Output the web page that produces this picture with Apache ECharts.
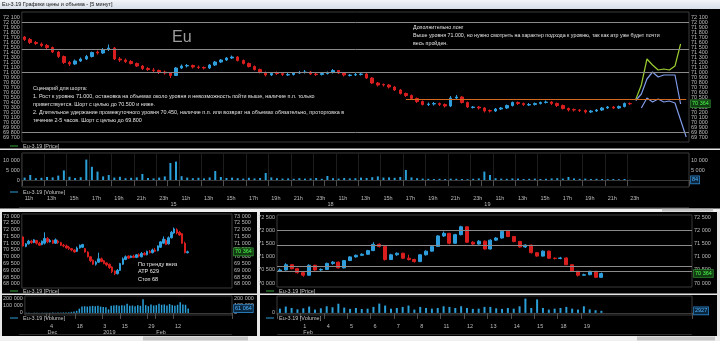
<!DOCTYPE html>
<html><head><meta charset="utf-8">
<script src="https://cdn.jsdelivr.net/npm/echarts@6/dist/echarts.min.js"></script>
<style>html,body{margin:0;padding:0;background:#000;overflow:hidden}#c{width:720px;height:341px}</style>
</head><body><div id="c"></div><script>
// ================= DATA =================
const windowTitle = 'Eu-3.19 Графики цены и объема - [5 минут]';
const priceName = 'Eu-3.19 [Price]';
const volumeName = 'Eu-3.19 [Volume]';

// ---- top chart: 30-min slots, sessions 10:00-24:00 ----
const topDays = ['14', '15', '18', '19', '20'];
// [open, close, low, high]
const topCandles = [
[71700,71650,71620,71720],[71650,71590,71560,71680],[71590,71570,71540,71620],[71560,71530,71500,71590],[71530,71490,71460,71560],
[71490,71400,71380,71510],[71400,71310,71280,71420],[71310,71190,71160,71330],[71190,71160,71120,71220],[71160,71220,71140,71250],
[71220,71260,71200,71290],[71260,71310,71240,71340],[71310,71390,71290,71410],[71400,71380,71350,71430],[71380,71450,71360,71480],
[71450,71480,71420,71550],[71480,71260,71240,71500],[71260,71240,71200,71300],[71240,71210,71180,71270],[71210,71170,71150,71240],
[71170,71120,71100,71190],[71120,71070,71040,71140],[71070,71050,71020,71100],[71040,71030,71000,71080],[71030,71000,70960,71050],
[71000,70980,70950,71030],[70980,70930,70880,71000],[70930,71080,70920,71100],[71080,71120,71060,71150],[71120,71130,71090,71160],
[71130,71100,71070,71150],[71100,71090,71060,71130],[71090,71080,71050,71110],[71080,71140,71060,71160],[71140,71200,71120,71220],
[71200,71240,71180,71260],[71240,71280,71220,71300],[71280,71300,71260,71330],[71300,71230,71210,71320],[71230,71170,71150,71250],
[71170,71110,71090,71190],[71110,71050,71030,71130],[71050,70990,70970,71070],[70990,70940,70910,71010],[70940,70970,70920,71000],
[70980,70970,70940,71010],[70970,70950,70920,70990],[70940,70950,70920,70980],[70950,70980,70930,71000],[70980,70990,70960,71020],
[70990,71000,70970,71040],[71000,70960,70940,71020],[70960,70950,70920,70980],[70950,70970,70930,70990],[70970,70990,70950,71010],
[70990,71030,70970,71060],[71030,70980,70960,71040],[70980,70940,70910,71000],[70930,70940,70910,70960],[70940,70950,70920,70980],
[70950,70960,70930,70990],[70960,70880,70860,70980],[70880,70780,70760,70900],[70780,70740,70710,70800],[70750,70740,70710,70770],
[70740,70700,70670,70760],[70700,70640,70620,70720],[70640,70570,70550,70660],[70570,70530,70500,70590],[70530,70470,70450,70550],
[70470,70410,70380,70490],[70410,70350,70330,70430],[70350,70360,70320,70390],[70360,70370,70330,70400],[70370,70350,70320,70390],
[70350,70320,70290,70370],[70320,70480,70300,70520],[70480,70500,70460,70540],[70500,70390,70370,70520],[70390,70300,70280,70410],
[70290,70300,70270,70320],[70300,70280,70250,70320],[70280,70220,70190,70300],[70230,70220,70190,70250],[70220,70260,70200,70280],
[70260,70280,70240,70300],[70280,70330,70260,70350],[70330,70390,70310,70410],[70390,70370,70340,70410],[70370,70350,70320,70390],
[70340,70350,70320,70380],[70350,70370,70330,70390],[70370,70390,70350,70410],[70390,70400,70370,70430],[70400,70370,70340,70420],
[70370,70330,70300,70390],[70330,70270,70250,70350],[70270,70240,70210,70290],[70250,70240,70210,70270],[70240,70230,70200,70260],
[70230,70200,70170,70250],[70200,70220,70180,70240],[70220,70240,70200,70260],[70240,70280,70220,70300],[70280,70300,70260,70320],
[70300,70280,70260,70320],[70280,70310,70260,70330],[70310,70370,70290,70390],[70370,70364,70340,70390]
];
const topVolume = [
1200,2500,900,1100,1500,1300,2200,4800,1600,1000,1400,10200,6600,4200,1800,2500,1200,1600,900,1100,
1300,3000,1000,800,1200,1800,8500,9200,1900,1200,900,1100,800,1300,4500,1500,1000,1200,900,700,
1100,800,1000,3500,1300,900,700,800,600,900,700,800,1000,600,2000,900,700,1000,800,900,
1200,1000,1400,1800,1200,1300,1100,1500,5000,1300,900,700,600,500,600,500,700,600,500,400,
600,800,4200,2500,900,700,600,800,700,500,600,700,500,600,800,900,700,1500,800,600,
700,500,600,500,400,500,400,500,84
];
// ATR projection channels, continuing after the last candle
const projGreen = [70450,70740,71260,71140,71040,71060,71040,71120,71560];
const projUpper = [70430,70560,70860,71000,70900,70940,70940,70940,70360];
const projLower = [null,70280,70480,70400,70460,70400,70420,70380,70040,69700];
const topLevels = [72000, 71450, 71000, 69800];
const shortLevel = 70450;
const shortLevelFrom = '18|17:00';
const lastPrice = 70364;

// ---- bottom-left: daily ----
const leftDays = [
'2018-11-21','2018-11-22','2018-11-23','2018-11-26','2018-11-27','2018-11-28','2018-11-29','2018-11-30',
'2018-12-03','2018-12-04','2018-12-05','2018-12-06','2018-12-07','2018-12-10','2018-12-11','2018-12-12','2018-12-13','2018-12-14',
'2018-12-17','2018-12-18','2018-12-19','2018-12-20','2018-12-21','2018-12-24','2018-12-25','2018-12-26','2018-12-27','2018-12-28','2018-12-29',
'2019-01-03','2019-01-04','2019-01-08','2019-01-09','2019-01-10','2019-01-11','2019-01-14','2019-01-15','2019-01-16','2019-01-17','2019-01-18',
'2019-01-21','2019-01-22','2019-01-23','2019-01-24','2019-01-25','2019-01-28','2019-01-29','2019-01-30','2019-01-31',
'2019-02-01','2019-02-04','2019-02-05','2019-02-06','2019-02-07','2019-02-08','2019-02-11','2019-02-12','2019-02-13','2019-02-14','2019-02-15',
'2019-02-18','2019-02-19',
'2019-02-20','2019-02-21','2019-02-22','2019-02-25','2019-02-26','2019-02-27','2019-02-28','2019-03-01','2019-03-04','2019-03-05',
'2019-03-06','2019-03-07','2019-03-11','2019-03-12','2019-03-13','2019-03-14'
];
const leftDateTicks = ['2018-12-04','2018-12-18','2019-01-03','2019-01-15','2019-01-29','2019-02-12'];
const leftMonthNames = {'2018-12':'Dec','2019-01':'2019','2019-02':'Feb'};
const leftCandles = [
[71460,70800,70750,71500],[70760,70950,70700,71000],[70950,71150,70900,71250],[71150,71050,70950,71250],[71050,71250,71000,71300],
[71200,71000,70900,71250],[71000,70850,70800,71100],[70900,71150,70850,71200],[71000,71350,70900,71800],[71350,71100,71000,71450],
[71100,71200,71050,71300],[71200,71000,70950,71250],[71000,71250,70950,71350],[71150,71050,70950,71250],[71050,70850,70800,71100],
[70850,70800,70700,70950],[70800,70650,70600,70900],[70700,70600,70500,70800],[70600,70500,70400,70650],[70500,70350,70300,70550],
[70400,70650,70350,70750],[70650,70850,70600,70900],[70700,70900,70650,70950],[70600,70350,70300,70650],[70350,70000,69950,70400],
[70000,69700,69600,70050],[69750,69450,69400,69800],[69450,69600,69350,69700],[69600,69850,69550,70300],[69850,69650,69600,69950],
[69700,69500,69450,69750],[69550,69400,69300,69600],[69450,69200,69100,69500],[69250,68900,68800,69300],[68950,68750,68650,69000],
[68750,69000,68700,69100],[69000,69500,68950,69550],[69450,69850,69400,69950],[69800,70000,69750,70100],[70050,69900,69850,70100],
[69950,70050,69900,70100],[70050,69950,69900,70150],[69950,70150,69900,70200],[70150,70050,69950,70250],[70000,70250,69950,70350],
[70250,70150,70100,70350],[70150,70400,70100,70450],[70400,70300,70250,70500],[70300,70500,70250,70600],[70500,70400,70350,70650],
[70450,70800,70400,70850],[70700,71100,70650,71150],[71000,71300,70950,71500],[71200,70900,70850,71300],[70950,71400,70900,71500],
[71400,71800,71350,71900],[71750,72050,71700,72150],[72000,71750,71650,72100],[71800,71600,71550,71900],[71700,71000,70950,71750],
[71000,70300,70250,71100],[70300,70364,70250,70450]
];
const leftVolume = [
1000,1500,800,1200,2000,1800,1500,2500,3000,2000,5000,4000,6000,5000,8000,7000,9000,15000,20000,30000,
60000,90000,95000,90000,95000,100000,95000,100000,90000,85000,80000,50000,100000,105000,110000,100000,110000,105000,130000,100000,
105000,95000,110000,100000,195000,110000,95000,120000,105000,110000,130000,115000,120000,105000,125000,110000,100000,115000,150000,120000,
115000,61064
];
const leftNotes = ['По тренду вниз', 'АТР 629', 'Стоп 68'];

// ---- bottom-right: 4 slots per trading day ----
const rightDays = ['01-31','02-01','02-04','02-05','02-06','02-07','02-08','02-11','02-12','02-13','02-14','02-15','02-18','02-19','02-20','02-21','02-22','02-25'];
const rightMonthNames = {'02':'Feb'};
const rightCandles = [
[70450,70500,70420,70560],[70500,70700,70480,70760],[70700,70550,70520,70720],[70550,70400,70360,70580],[70400,70300,70240,70430],
[70300,70680,70280,70720],[70680,70500,70470,70700],[70500,70520,70460,70560],[70520,70750,70500,70780],[70750,70800,70700,70840],
[70800,70580,70560,70820],[70580,70860,70560,70880],[70860,71000,70840,71030],[71000,71060,70970,71090],[71060,71100,71030,71140],
[71100,71240,71080,71270],[71240,71480,71220,71560],[71480,71400,71360,71520],[71400,70900,70860,71420],[70900,71080,70880,71120],
[71080,71140,71040,71170],[71140,70950,70920,71160],[70950,70900,70860,71080],[70900,70820,70780,70930],[70820,71080,70800,71100],
[71080,71220,71050,71250],[71220,71400,71200,71430],[71400,71800,71380,71830],[71800,71900,71760,71970],[71900,71520,71480,71920],
[71520,71850,71500,71880],[71850,72150,71820,72190],[72150,71560,71530,72160],[71560,71490,71450,71600],[71490,71600,71470,71640],
[71600,71300,71280,71630],[71300,71640,71280,71670],[71640,71720,71610,71760],[71720,71980,71700,72010],[71980,71780,71750,72000],
[71780,71590,71560,71800],[71590,71380,71350,71610],[71380,71450,71340,71480],[71450,71160,71130,71470],[71160,71030,71000,71190],
[71030,71220,71010,71250],[71220,70950,70920,71240],[70950,70940,70900,70980],[70940,70960,70910,71000],[70960,70700,70680,70980],
[70700,70450,70420,70720],[70450,70300,70250,70470],[70300,70320,70280,70360],[70320,70450,70300,70470],[70450,70220,70190,70460],
[70220,70364,70200,70400]
];
const rightVolume = [
6000,9000,7000,5000,6500,9000,4700,6500,9400,8000,13000,7500,5700,7000,5500,6000,8500,13200,10400,6000,
7000,8500,10400,4700,8500,7000,6000,7000,9400,8500,7000,9400,7000,5700,6000,8500,8500,6500,5700,7000,
6000,9400,20300,7000,19200,7000,4700,6000,7000,8500,6000,4700,9400,5000,3800,2927
];
const rightLevels = [72000, 71450, 70640, 70450];

const scenarioText = [
'Сценарий для шорта:',
'1. Рост к уровню 71.000, остановка на объемах около уровня и невозможность пойти выше, наличие п.п. только',
'приветствуется. Шорт с целью до 70.500 и ниже.',
'2. Длительное удержание промежуточного уровня 70.450, наличие п.п. или возврат на объемах обязательно, проторговка в',
'течение 2-5 часов. Шорт с целью до 69.800'
];
const longText = [
'Дополнительно лонг',
'Выше уровня 71.000, но нужно смотреть на характер подхода к уровню, так как атр уже будет почти',
'весь пройден.'
];

// ================= BUILD =================
const FONT = 'Arial, "Liberation Sans", sans-serif';
const LBL = '#bcbcbc';
const UP = '#2e9fdc', DOWN = '#d81e1e', VOL = '#2a9fd8';
const CLEAR = 'rgba(0,0,0,0)';
const fmt = v => String(v).replace(/\B(?=(\d{3})+(?!\d))/g, ' ');

// top categories
const topCats = [];
topDays.forEach((d, k) => {
  for (let m = (k === 0 ? 11 * 60 : 10 * 60); m < 24 * 60; m += 30) {
    topCats.push(d + '|' + String(Math.floor(m / 60)).padStart(2, '0') + ':' + String(m % 60).padStart(2, '0'));
  }
});
const topN = topCandles.length;
topCats.length = topN + projLower.length;
const pad = (arr, n) => new Array(n).fill(null).concat(arr);
const topDay = i => topCats[i].split('|')[0];
const hourShow = i => { if (i >= topN) return false; const t = topCats[i].split('|')[1]; return t.slice(3) === '00' && (+t.slice(0, 2)) % 2 === 1; };
const topDayShow = i => i > 0 && i < topN && topDay(i) !== topDay(i - 1);

// left
const leftN = leftCandles.length;
const leftTickShow = i => i < leftN && leftDateTicks.includes(leftDays[i]);
const leftMonthShow = i => i > 0 && i < leftN && leftDays[i].slice(0, 7) !== leftDays[i - 1].slice(0, 7);

// right
const rightN = rightCandles.length;
const rightCats = [];
rightDays.forEach(d => { for (let q = 0; q < 4; q++) rightCats.push(d + '|' + q); });
rightCats.length = rightN + 15;
const rDay = i => rightCats[i].split('|')[0];
const rightDayShow = i => i > 0 && i < rightN && rDay(i) !== rDay(i - 1);
const rightMonthShow = i => i > 0 && i < rightN && rDay(i).slice(0, 2) !== rDay(i - 1).slice(0, 2);

function yAxis(grid, pos, min, max, interval, step, lo, hi, show) {
  return {
    type: 'value', gridIndex: grid, position: pos, min, max, interval, scale: true,
    axisLine: {show: false}, axisTick: {show: false}, splitLine: {show: false},
    axisLabel: {show: show !== false, fontSize: 5.5, fontFamily: FONT, color: LBL, margin: 2,
      formatter: v => (v % step === 0 && v >= lo && v <= hi) ? fmt(v) : ''}
  };
}
function timeAxis(grid, cats, offset, showFn, fmtFn) {
  return {
    type: 'category', gridIndex: grid, data: cats, position: 'bottom', offset,
    axisLine: {show: true, lineStyle: {color: '#3a3a3a'}},
    axisTick: {show: true, length: 6, interval: (i) => showFn(i), lineStyle: {color: '#505050'}},
    axisLabel: {interval: (i) => showFn(i), formatter: fmtFn, align: 'left', margin: 0,
      fontSize: 5.5, fontFamily: FONT, color: LBL},
    splitLine: {show: false}
  };
}
function hiddenX(grid, cats) {
  return {type: 'category', gridIndex: grid, data: cats, show: false};
}
function levelLines(levels, color) {
  return levels.map(v => ({yAxis: v, lineStyle: {color: color, width: 1, type: 'solid'}}));
}
function lastBox(value, text, bg, fg, border) {
  return {yAxis: value, lineStyle: {color: CLEAR, width: 0.1, type: 'solid'},
    label: {show: true, position: 'end', distance: 2, formatter: text, fontSize: 5.5, fontFamily: FONT,
      color: fg, backgroundColor: bg, borderColor: border, borderWidth: 0.8, padding: [1, 1, 0, 1]}};
}
const candleStyle = {color: UP, color0: DOWN, borderColor: UP, borderColor0: DOWN, borderWidth: 1};

const chart = echarts.init(document.getElementById('c'), null, {renderer: 'canvas'});
const gridStyle = {show: true, borderColor: '#3a3a3a', borderWidth: 1, backgroundColor: 'transparent'};

const option = {
  animation: false,
  backgroundColor: '#000',
  textStyle: {fontFamily: FONT},
  grid: [
    Object.assign({left: 19, top: 12, width: 670, height: 130}, gridStyle),
    Object.assign({left: 19, top: 153, width: 670, height: 34}, gridStyle),
    Object.assign({left: 19, top: 214, width: 213, height: 74}, gridStyle),
    Object.assign({left: 19, top: 296, width: 213, height: 19}, gridStyle),
    Object.assign({left: 277, top: 215, width: 415, height: 72}, gridStyle),
    Object.assign({left: 277, top: 296, width: 415, height: 19}, gridStyle)
  ],
  xAxis: [
    hiddenX(0, topCats),
    Object.assign(timeAxis(1, topCats, 8, hourShow, v => (+v.split('|')[1].slice(0, 2)) + 'h'),
      {splitLine: {show: true, interval: (i) => hourShow(i), lineStyle: {color: '#1d1d1d'}}}),
    timeAxis(1, topCats, 14, topDayShow, v => v.split('|')[0]),
    hiddenX(2, leftDays),
    timeAxis(3, leftDays, 8, leftTickShow, v => String(+v.slice(8))),
    timeAxis(3, leftDays, 14, leftMonthShow, v => leftMonthNames[v.slice(0, 7)] || ''),
    hiddenX(4, rightCats),
    timeAxis(5, rightCats, 8, rightDayShow, v => String(+v.split('|')[0].slice(3))),
    timeAxis(5, rightCats, 14, rightMonthShow, v => rightMonthNames[v.slice(0, 2)] || '')
  ],
  yAxis: [
    yAxis(0, 'left', 69600, 72200, 100, 100, 69700, 72100),
    yAxis(0, 'right', 69600, 72200, 100, 100, 69700, 72100),
    yAxis(1, 'left', -3500, 13500, 500, 5000, 0, 10000),
    yAxis(1, 'right', -3500, 13500, 500, 5000, 0, 10000),
    yAxis(2, 'left', 67700, 73150, 50, 500, 68000, 73000),
    yAxis(2, 'right', 67700, 73150, 50, 500, 68000, 73000),
    yAxis(3, 'left', -30000, 240000, 10000, 100000, 0, 200000),
    yAxis(3, 'right', -30000, 240000, 10000, 100000, 0, 200000),
    yAxis(4, 'left', 69850, 72600, 50, 500, 70000, 72500),
    yAxis(4, 'right', 69850, 72600, 50, 500, 70000, 72500),
    yAxis(5, 'left', -3000, 24000, 1000, 100000, 0, 0),
    yAxis(5, 'right', -3000, 24000, 1000, 100000, 0, 0, false)
  ],
  legend: [
    {left: 10, top: 143, data: [priceName]},
    {left: 10, top: 189, data: [volumeName]},
    {left: 10, top: 288, data: [priceName]},
    {left: 10, top: 315, data: [volumeName]},
    {left: 266, top: 288, data: [priceName]},
    {left: 266, top: 315, data: [volumeName]}
  ].map((l, k) => Object.assign({
    icon: 'rect', itemWidth: 8, itemHeight: 1, itemGap: 0, padding: 0, selectedMode: false,
    textStyle: {fontSize: 5.5, fontFamily: FONT, color: '#c4c4c4'},
    itemStyle: {color: (k % 2 === 0) ? '#37a337' : VOL, borderWidth: 0}
  }, l)),
  series: [
    {name: priceName, type: 'candlestick', xAxisIndex: 0, yAxisIndex: 0, data: topCandles, barWidth: 3,
      itemStyle: candleStyle,
      markLine: {silent: true, symbol: 'none', animation: false,
        data: levelLines(topLevels, '#8a8a8a').map(d => Object.assign(d, {label: {show: false}})).concat([
          [{xAxis: shortLevelFrom, yAxis: shortLevel, lineStyle: {color: '#d2691e', width: 1, type: 'solid'}, label: {show: false}},
           {xAxis: topCats[topCats.length - 1], yAxis: shortLevel}],
          lastBox(lastPrice, fmt(lastPrice), '#123d12', '#4cff4c', '#2f8f2f')
        ])}},
    {name: 'ATR+ 1', type: 'line', xAxisIndex: 0, yAxisIndex: 0, data: pad(projGreen, topN), symbol: 'none',
      lineStyle: {color: '#9acd32', width: 1.2}, connectNulls: false},
    {name: 'ATR+ 2', type: 'line', xAxisIndex: 0, yAxisIndex: 0, data: pad(projUpper, topN), symbol: 'none',
      lineStyle: {color: '#7f9be8', width: 1.2}},
    {name: 'ATR- 1', type: 'line', xAxisIndex: 0, yAxisIndex: 0, data: pad(projLower, topN), symbol: 'none',
      lineStyle: {color: '#7f9be8', width: 1.2}},
    {name: volumeName, type: 'bar', xAxisIndex: 1, yAxisIndex: 2, data: topVolume, barWidth: 2,
      itemStyle: {color: VOL},
      markLine: {silent: true, symbol: 'none', data: [lastBox(topVolume[topN - 1], String(topVolume[topN - 1]), '#0b2740', '#4fb4ff', '#2a7fc0')]}},
    {name: priceName, type: 'candlestick', xAxisIndex: 3, yAxisIndex: 4, data: leftCandles, barWidth: 2,
      itemStyle: candleStyle,
      markLine: {silent: true, symbol: 'none', data: [lastBox(lastPrice, fmt(lastPrice), '#123d12', '#4cff4c', '#2f8f2f')]}},
    {name: volumeName, type: 'bar', xAxisIndex: 4, yAxisIndex: 6, data: leftVolume, barWidth: 1.5,
      itemStyle: {color: VOL},
      markLine: {silent: true, symbol: 'none', data: [lastBox(leftVolume[leftN - 1], fmt(leftVolume[leftN - 1]), '#0b2740', '#4fb4ff', '#2a7fc0')]}},
    {name: priceName, type: 'candlestick', xAxisIndex: 6, yAxisIndex: 8, data: rightCandles, barWidth: 3.5,
      itemStyle: candleStyle,
      markLine: {silent: true, symbol: 'none',
        data: levelLines(rightLevels, '#8a8a8a').map(d => Object.assign(d, {label: {show: false}})).concat([lastBox(lastPrice, fmt(lastPrice), '#123d12', '#4cff4c', '#2f8f2f')])}},
    {name: volumeName, type: 'bar', xAxisIndex: 7, yAxisIndex: 10, data: rightVolume, barWidth: 2,
      itemStyle: {color: VOL},
      markLine: {silent: true, symbol: 'none', data: [lastBox(rightVolume[rightN - 1], String(rightVolume[rightN - 1]), '#0b2740', '#4fb4ff', '#2a7fc0')]}}
  ],
  graphic: [
    {type: 'rect', shape: {x: 0, y: 0, width: 720, height: 9},
      style: {fill: new echarts.graphic.LinearGradient(0, 0, 0, 1, [{offset: 0, color: '#f2f5f9'}, {offset: 1, color: '#d6dee8'}])}},
    {type: 'text', x: 2, y: 4.5, style: {text: windowTitle, fontSize: 5.5, fontFamily: FONT, fill: '#111', verticalAlign: 'middle'}},
    {type: 'rect', shape: {x: 0, y: 148.5, width: 720, height: 1.5}, style: {fill: '#e6e6e6'}},
    {type: 'rect', shape: {x: 19, y: 207, width: 670, height: 0.8}, style: {fill: '#3a3a3a'}},
    {type: 'rect', shape: {x: 0, y: 208.5, width: 720, height: 3.5}, style: {fill: '#f0f0f0'}},
    {type: 'rect', shape: {x: 662, y: 208.8, width: 51, height: 2.8}, style: {fill: '#c2c2c2'}},
    {type: 'rect', shape: {x: 257, y: 212, width: 3, height: 129}, style: {fill: '#e6e6e6'}},
    {type: 'rect', shape: {x: 0, y: 212, width: 2, height: 129}, style: {fill: '#e6e6e6'}},
    {type: 'rect', shape: {x: 717, y: 212, width: 3, height: 129}, style: {fill: '#e6e6e6'}},
    {type: 'rect', shape: {x: 0, y: 293.5, width: 720, height: 1.5}, style: {fill: '#e6e6e6'}},
    {type: 'rect', shape: {x: 19, y: 334, width: 213, height: 0.8}, style: {fill: '#3a3a3a'}},
    {type: 'rect', shape: {x: 277, y: 334, width: 415, height: 0.8}, style: {fill: '#3a3a3a'}},
    {type: 'rect', shape: {x: 0, y: 336, width: 720, height: 5}, style: {fill: '#f0f0f0'}},
    {type: 'rect', shape: {x: 143, y: 336.5, width: 105, height: 4}, style: {fill: '#c6c6c6'}},
    {type: 'rect', shape: {x: 637, y: 336.5, width: 78, height: 4}, style: {fill: '#c6c6c6'}},
    {type: 'text', x: 172, y: 30, style: {text: 'Eu', fontSize: 16, fontFamily: FONT, fill: '#9c9c9c'}},
    {type: 'text', x: 33, y: 85, style: {text: scenarioText.join('\n'), fontSize: 5.4, lineHeight: 8, fontFamily: FONT, fill: '#e2e2e2'}},
    {type: 'text', x: 413, y: 24, style: {text: longText.join('\n'), fontSize: 5.3, lineHeight: 8, fontFamily: FONT, fill: '#e2e2e2'}},
    {type: 'text', x: 138, y: 260.5, style: {text: leftNotes.join('\n'), fontSize: 5.5, lineHeight: 7.5, fontFamily: FONT, fill: '#e8e8e8'}}
  ]
};
chart.setOption(option);
</script></body></html>
